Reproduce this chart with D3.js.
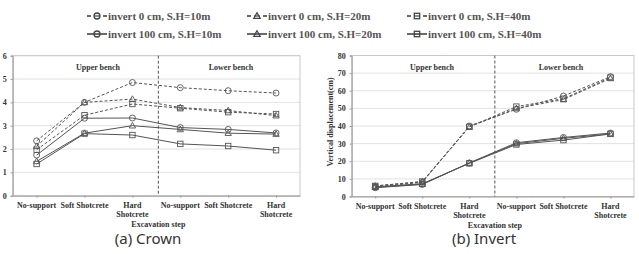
<!DOCTYPE html>
<html>
<head>
<meta charset="utf-8">
<script src="https://cdn.jsdelivr.net/npm/d3@7"></script>
<style>
  body { margin: 0; background: #fff; }
  svg { display: block; }
  .tick-lbl { font-family: "Liberation Serif", serif; font-weight: bold; font-size: 8px; fill: #333; }
  .legend-lbl { font-family: "Liberation Serif", serif; font-weight: bold; font-size: 11px; fill: #555; }
  .caption { font-family: "Noto Sans", sans-serif; font-size: 15px; fill: #333; }
</style>
</head>
<body>
<div id="chart-div"></div>
<script>
var fn = {};
var vars = {};

// categories (excavation steps)
var steps = ["No-support", "Soft Shotcrete", "Hard|Shotcrete", "No-support", "Soft Shotcrete", "Hard|Shotcrete"];
var series_names = [
  "invert 0 cm, S.H=10m", "invert 0 cm, S.H=20m", "invert 0 cm, S.H=40m",
  "invert 100 cm, S.H=10m", "invert 100 cm, S.H=20m", "invert 100 cm, S.H=40m"
];
var series_markers = ["circle", "triangle", "square", "circle", "triangle", "square"];
var series_dashed = [true, true, true, false, false, false];

// (a) crown
var crown_0_10 = [2.35, 4.0, 4.85, 4.63, 4.5, 4.4];
var crown_0_20 = [2.12, 4.0, 4.14, 3.78, 3.65, 3.43];
var crown_0_40 = [1.97, 3.45, 3.93, 3.75, 3.58, 3.5];
var crown_100_10 = [1.74, 3.32, 3.33, 2.92, 2.84, 2.69];
var crown_100_20 = [1.47, 2.68, 3.0, 2.84, 2.68, 2.64];
var crown_100_40 = [1.36, 2.66, 2.6, 2.22, 2.13, 1.95];
var crown_ticks = [0, 1, 2, 3, 4, 5, 6];

// (b) invert
var invert_0_10 = [5.5, 8.0, 40, 49.5, 57, 68];
var invert_0_20 = [6.0, 8.3, 39.5, 50, 55, 67];
var invert_0_40 = [6.0, 8.5, 39.5, 51, 55.5, 67.5];
var invert_100_10 = [5.0, 6.8, 19, 30.5, 33.5, 36];
var invert_100_20 = [5.2, 7.0, 19, 30, 33, 35.5];
var invert_100_40 = [5.5, 7.2, 18.8, 29.5, 32, 35.5];
var invert_ticks = [0, 10, 20, 30, 40, 50, 60, 70, 80];

var bench_labels = ["Upper bench", "Lower bench"];
var x_title = "Excavation step";
var y_title = "Vertical displacement(cm)";

vars.line_color = "#555";

vars.panels = [
  {
    left: 12.7, right: 300, top: 55.7, bottom: 195.7,
    domain: [0, 6], ticks: crown_ticks, caption: "(a) Crown", caption_x: 148,
    series: [crown_0_10, crown_0_20, crown_0_40, crown_100_10, crown_100_20, crown_100_40],
    ytitle_x: -3, bench_x: [98, 231]
  },
  {
    left: 351.7, right: 634, top: 55.5, bottom: 196.5,
    domain: [0, 80], ticks: invert_ticks, caption: "(b) Invert", caption_x: 484,
    series: [invert_0_10, invert_0_20, invert_0_40, invert_100_10, invert_100_20, invert_100_40],
    ytitle_x: 333, bench_x: [432, 561]
  }
];

fn.marker = function(sel, type, x, y) {
  if (type === "circle") {
    sel.append("circle").attr("cx", x).attr("cy", y).attr("r", 3);
  } else if (type === "triangle") {
    sel.append("path").attr("d", "M" + x + "," + (y - 3.3) + "L" + (x + 3.2) + "," + (y + 2.3) + "L" + (x - 3.2) + "," + (y + 2.3) + "Z");
  } else {
    sel.append("rect").attr("x", x - 2.7).attr("y", y - 2.7).attr("width", 5.4).attr("height", 5.4);
  }
};

fn.draw_panel = function(svg, p) {
  var g = svg.append("g");
  var x = d3.scalePoint().domain(d3.range(steps.length)).range([p.left, p.right]).padding(0.5);
  var y = d3.scaleLinear().domain(p.domain).range([p.bottom, p.top]);

  // gridlines
  g.append("g").selectAll("line").data(p.ticks.slice(1)).enter().append("line")
    .attr("x1", p.left).attr("x2", p.right)
    .attr("y1", function(d) { return y(d); }).attr("y2", function(d) { return y(d); })
    .attr("stroke", "#e2e2e2").attr("stroke-width", 1);

  // frame
  g.append("rect").attr("x", p.left).attr("y", p.top)
    .attr("width", p.right - p.left).attr("height", p.bottom - p.top)
    .attr("fill", "none").attr("stroke", "#c8c8c8");

  // axes
  var ya = g.append("g").attr("transform", "translate(" + p.left + ",0)")
    .call(d3.axisLeft(y).tickValues(p.ticks).tickFormat(d3.format("d")).tickSize(2).tickPadding(4));
  ya.select(".domain").attr("stroke", "#999");
  ya.selectAll(".tick line").attr("stroke", "#999");
  ya.selectAll("text").attr("class", "tick-lbl").attr("fill", null).attr("font-family", null).attr("font-size", null);

  var xa = g.append("g").attr("transform", "translate(0," + p.bottom + ")")
    .call(d3.axisBottom(x).tickSize(2).tickSizeOuter(0).tickFormat(""));
  xa.select(".domain").attr("stroke", "#999");
  xa.selectAll(".tick line").attr("stroke", "#999");

  g.append("g").selectAll("text").data(steps).enter().append("text")
    .attr("class", "tick-lbl").attr("text-anchor", "middle")
    .attr("x", function(d, i) { return x(i); })
    .attr("y", p.bottom + 12)
    .each(function(d) {
      var t = d3.select(this);
      d.split("|").forEach(function(s, k) {
        t.append("tspan").attr("x", t.attr("x")).attr("dy", k ? 9 : 0).text(s);
      });
    });

  g.append("text").attr("class", "tick-lbl").attr("text-anchor", "middle")
    .attr("x", (p.left + p.right) / 2 + 2).attr("y", p.bottom + 31).text(x_title);

  g.append("text").attr("class", "tick-lbl").attr("text-anchor", "middle")
    .attr("font-size", "7px")
    .attr("transform", "translate(" + p.ytitle_x + "," + (y(p.domain[1] / 2) - 4) + ") rotate(-90)")
    .text(y_title);

  // divider between benches
  var mid = (x(2) + x(3)) / 2 + 2;
  g.append("line").attr("x1", mid).attr("x2", mid).attr("y1", p.top).attr("y2", p.bottom)
    .attr("stroke", "#555").attr("stroke-dasharray", "3,2");

  g.selectAll("text.bench").data(bench_labels).enter().append("text")
    .attr("class", "tick-lbl bench").attr("text-anchor", "middle")
    .attr("font-size", "9px")
    .attr("x", function(d, i) { return p.bench_x[i]; })
    .attr("y", p.top + 14.5)
    .text(function(d) { return d; });

  // lines
  var line_fn = d3.line()
    .x(function(d, i) { return x(i); })
    .y(function(d) { return y(d); });

  p.series.forEach(function(vals, si) {
    g.append("path").attr("d", line_fn(vals))
      .attr("fill", "none").attr("stroke", vars.line_color).attr("stroke-width", 1)
      .attr("stroke-dasharray", series_dashed[si] ? "3,2" : null);
    var mg = g.append("g").attr("fill", "none").attr("stroke", vars.line_color).attr("stroke-width", 0.9);
    vals.forEach(function(v, i) { fn.marker(mg, series_markers[si], x(i), y(v)); });
  });

  svg.append("text").attr("class", "caption").attr("text-anchor", "middle")
    .attr("x", p.caption_x).attr("y", 244).text(p.caption);
};

fn.draw_legend = function(svg) {
  var lg = svg.append("g");
  series_names.forEach(function(name, i) {
    var col = i % 3, row = Math.floor(i / 3);
    var sx = 87 + col * 160, sy = 16 + row * 18;
    var item = lg.append("g").attr("stroke", "#444").attr("stroke-width", 1.6);
    if (series_dashed[i]) {
      item.append("line").attr("x1", sx).attr("x2", sx + 4).attr("y1", sy).attr("y2", sy);
      item.append("line").attr("x1", sx + 7).attr("x2", sx + 13).attr("y1", sy).attr("y2", sy)
        .attr("stroke-width", 1.2);
      item.append("line").attr("x1", sx + 16).attr("x2", sx + 20).attr("y1", sy).attr("y2", sy);
    } else {
      item.append("line").attr("x1", sx).attr("x2", sx + 20).attr("y1", sy).attr("y2", sy);
    }
    var mg = item.append("g").attr("fill", "none").attr("stroke-width", 1.3);
    fn.marker(mg, series_markers[i], sx + 10, sy);
    item.append("text").attr("class", "legend-lbl").attr("stroke", "none")
      .attr("x", sx + 21).attr("y", sy + 4).text(name);
  });
};

fn.main = function() {
  vars.svg = d3.select("#chart-div").append("svg")
    .attr("width", 639).attr("height", 254);
  fn.draw_legend(vars.svg);
  vars.panels.forEach(function(p) { fn.draw_panel(vars.svg, p); });
};

fn.main();
</script>
</body>
</html>
